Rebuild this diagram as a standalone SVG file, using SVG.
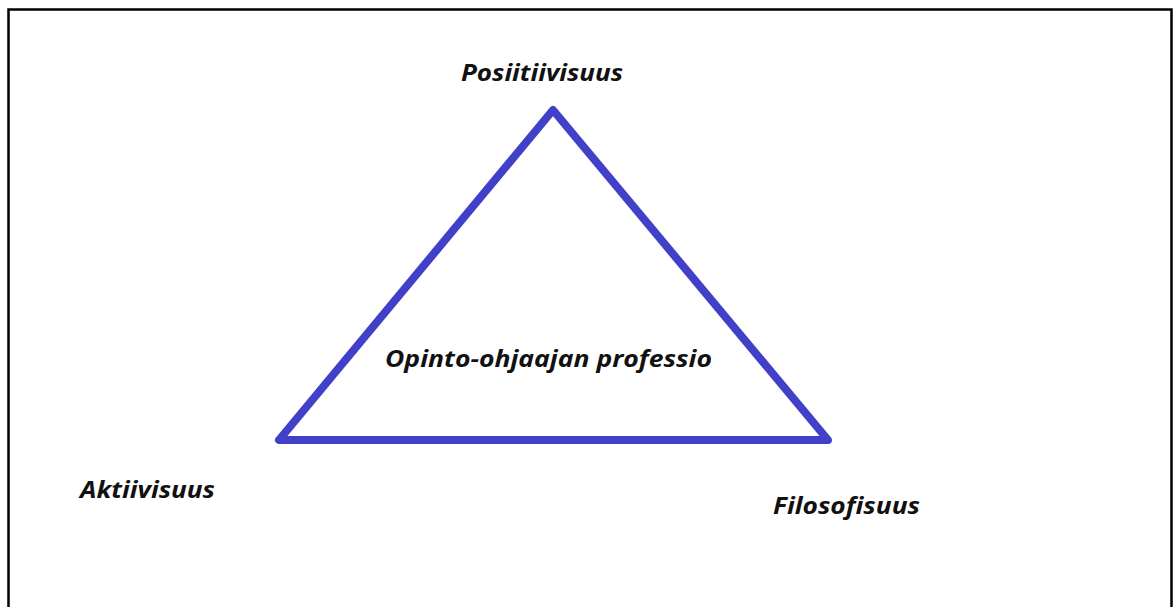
<svg xmlns="http://www.w3.org/2000/svg" width="1173" height="607" viewBox="0 0 1173 607">
  <style>
    .frame { fill: none; stroke: #000; stroke-width: 2.5; }
    .tri { fill: none; stroke: #4040C8; stroke-width: 8; stroke-linejoin: round; stroke-linecap: round; }
    .lbl { font-family: "Open Sans", "Liberation Sans", sans-serif; font-weight: bold; font-style: italic; font-size: 23px; fill: #111; }
  </style>
  <rect width="1173" height="607" fill="#fff"/>
  <path class="frame" d="M8.5 620 V9.5 H1171.5 V620"/>
  <g id="connectors">
    <polygon class="tri" points="553,110 279,440 828,440"/>
  </g>
  <g id="node-posiitiivisuus">
    <text class="lbl" x="461" y="81" textLength="162" lengthAdjust="spacingAndGlyphs">Posiitiivisuus</text>
  </g>
  <g id="node-profession">
    <text class="lbl" x="385" y="367" textLength="327" lengthAdjust="spacingAndGlyphs">Opinto-ohjaajan professio</text>
  </g>
  <g id="node-aktiivisuus">
    <text class="lbl" x="80" y="498" textLength="135" lengthAdjust="spacingAndGlyphs">Aktiivisuus</text>
  </g>
  <g id="node-filosofisuus">
    <text class="lbl" x="773" y="514" textLength="147" lengthAdjust="spacingAndGlyphs">Filosofisuus</text>
  </g>
</svg>
